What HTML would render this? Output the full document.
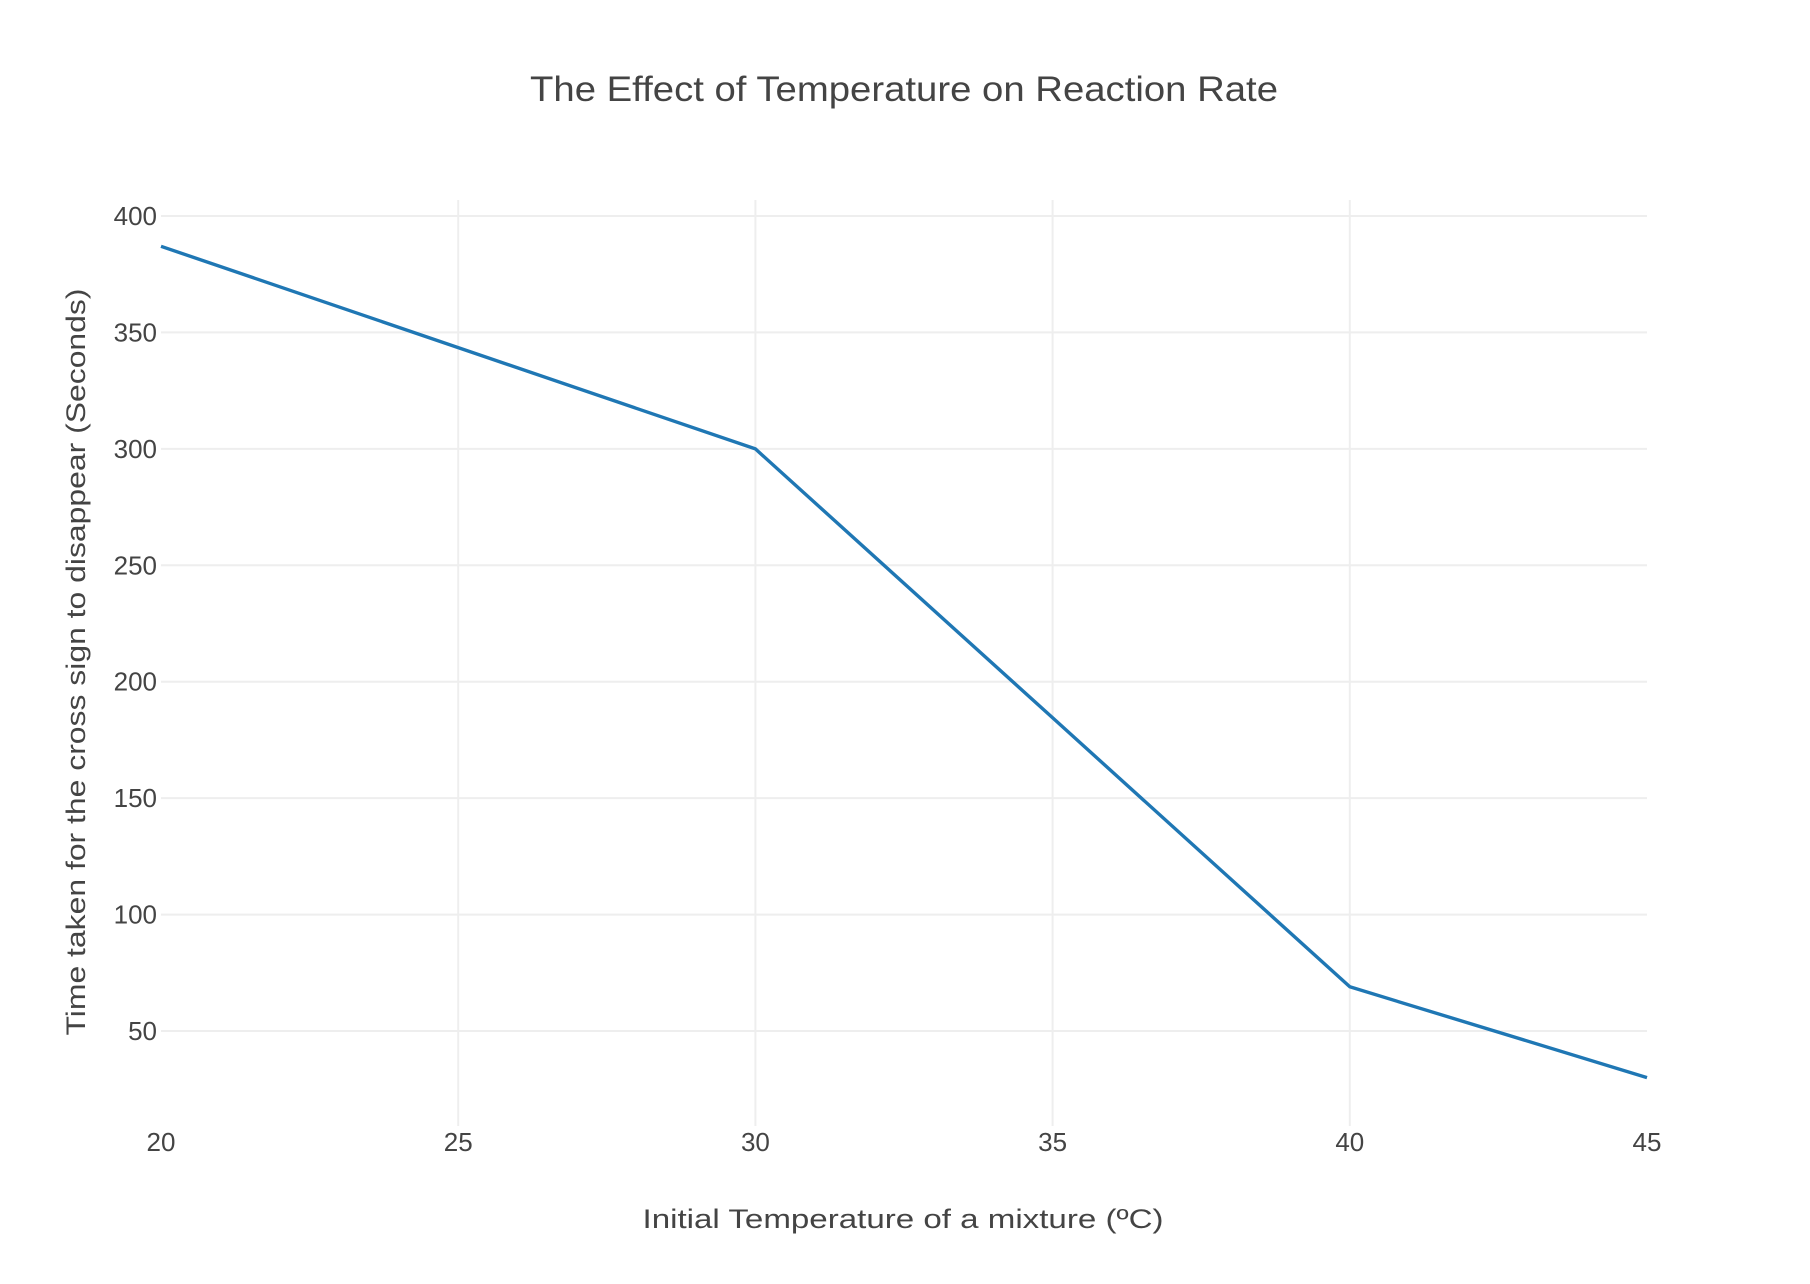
<!DOCTYPE html>
<html><head><meta charset="utf-8"><style>
html,body{margin:0;padding:0;background:#fff;}
svg{display:block;font-family:"Liberation Sans",sans-serif;}
</style></head><body>
<svg id="chart" width="1810" height="1284" viewBox="0 0 1810 1284">
<text x="904" y="101" text-anchor="middle" font-size="35" fill="#444" textLength="748" lengthAdjust="spacingAndGlyphs">The Effect of Temperature on Reaction Rate</text>
<g id="grid"></g>
<g id="ticks"></g>
<path id="series" fill="none" stroke="#1f77b4" stroke-width="3.4" stroke-linejoin="round"/>
<text x="903" y="1228" text-anchor="middle" font-size="27" fill="#444" textLength="521" lengthAdjust="spacingAndGlyphs">Initial Temperature of a mixture (ºC)</text>
<text x="0" y="0" transform="translate(85,662) rotate(-90)" text-anchor="middle" font-size="27" fill="#444" textLength="747" lengthAdjust="spacingAndGlyphs">Time taken for the cross sign to disappear (Seconds)</text>
</svg>
<script>
const temps = [20, 25, 30, 35, 40, 45];
const times = [387, 343.5, 300, 184.5, 69, 30];
const xTicks = [20, 25, 30, 35, 40, 45];
const yTicks = [50, 100, 150, 200, 250, 300, 350, 400];

const X0 = 161, X1 = 1647, Y400 = 216, PER = 2.3286;
const PT = 200, PB = 1126;
function sx(v){ return X0 + (v - 20) / 25 * (X1 - X0); }
function sy(v){ return Y400 + (400 - v) * PER; }
const NS = "http://www.w3.org/2000/svg";
const grid = document.getElementById('grid');
const ticks = document.getElementById('ticks');

xTicks.forEach(t => {
  const l = document.createElementNS(NS, 'line');
  
  
  l.setAttribute('x1', sx(t)); l.setAttribute('x2', sx(t));
  l.setAttribute('y1', PT); l.setAttribute('y2', PB);
  l.setAttribute('stroke', '#eeeeee'); l.setAttribute('stroke-width', '2');
  if (t !== 20 && t !== 45) grid.appendChild(l);
  const tx = document.createElementNS(NS, 'text');
  
  
  tx.setAttribute('x', sx(t)); tx.setAttribute('y', 1151);
  tx.setAttribute('text-anchor', 'middle'); tx.setAttribute('font-size', '26'); tx.setAttribute('fill', '#444');
  tx.textContent = t;
  ticks.appendChild(tx);
});
yTicks.forEach(t => {
  const l = document.createElementNS(NS, 'line');
  
  
  l.setAttribute('x1', X0); l.setAttribute('x2', X1);
  l.setAttribute('y1', sy(t)); l.setAttribute('y2', sy(t));
  l.setAttribute('stroke', '#eeeeee'); l.setAttribute('stroke-width', '2');
  grid.appendChild(l);
  const tx = document.createElementNS(NS, 'text');
  
  
  tx.setAttribute('x', 157); tx.setAttribute('y', sy(t) + 9);
  tx.setAttribute('text-anchor', 'end'); tx.setAttribute('font-size', '26'); tx.setAttribute('fill', '#444');
  tx.textContent = t;
  ticks.appendChild(tx);
});
document.getElementById('series').setAttribute('d',
  temps.map((t, i) => (i ? 'L' : 'M') + sx(t).toFixed(1) + ',' + sy(times[i]).toFixed(1)).join(' '));
</script>
</body></html>
